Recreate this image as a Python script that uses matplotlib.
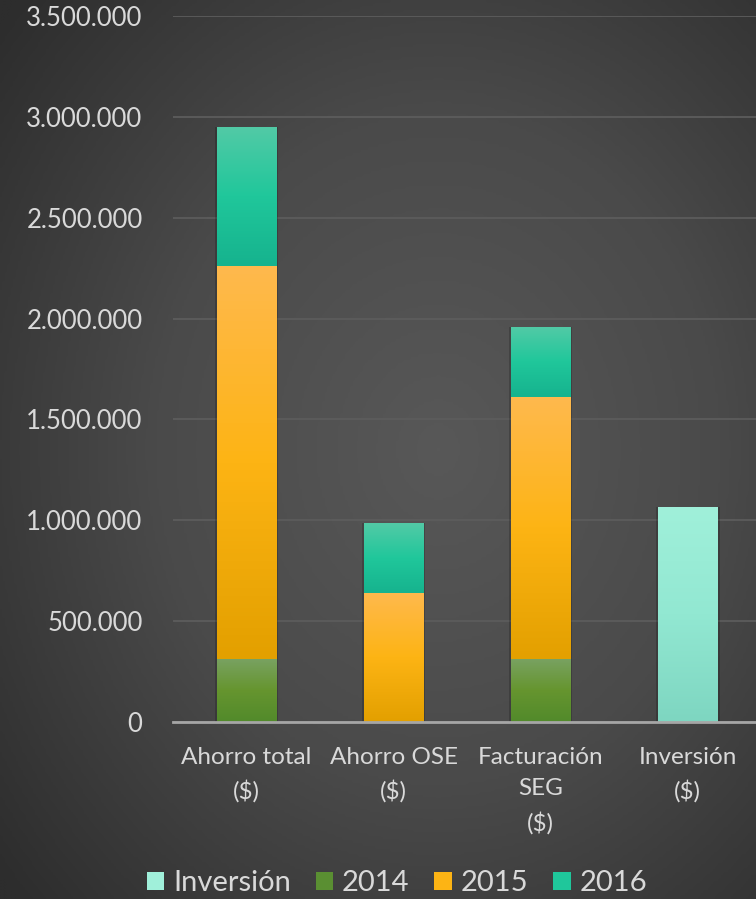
import matplotlib
matplotlib.use("Agg")
import matplotlib.pyplot as plt
import numpy as np
from matplotlib.colors import LinearSegmentedColormap
from matplotlib.patches import Patch
from matplotlib.ticker import FuncFormatter

plt.rcParams['font.family'] = ['Lato', 'DejaVu Sans']

categorias = ["Ahorro total\n($)", "Ahorro OSE\n($)", "Facturación\nSEG\n($)", "Inversión\n($)"]
inversion = [0, 0, 0, 1068000]
v2014 = [313000, 0, 313000, 0]
v2015 = [1947000, 641000, 1296000, 0]
v2016 = [690000, 347000, 348000, 0]

# colores (arriba, medio, abajo) para el degradado
grad = {
    "Inversión": ["#a0f0da", "#92e8d2", "#7ed6c1"],
    "2014": ["#79a262", "#66952f", "#528a2b"],
    "2015": ["#ffb94d", "#fdb414", "#e3a000"],
    "2016": ["#52caa6", "#20c79b", "#16b38e"],
}
swatch = {"Inversión": "#a0f0da", "2014": "#5a8f32", "2015": "#fdb414", "2016": "#1fc79b"}

fig = plt.figure(figsize=(7.56, 8.99), dpi=100)

# fondo con degradado radial
bg = fig.add_axes([0, 0, 1, 1], zorder=-10)
yy, xx = np.mgrid[0:1:300j, 0:1:300j]
r = np.sqrt((xx - 0.58) ** 2 + (yy - 0.5) ** 2)
bg_cmap = LinearSegmentedColormap.from_list("bg", ["#585858", "#4a4a4a", "#2d2d2d"])
bg.imshow(r, cmap=bg_cmap, aspect="auto", extent=[0, 1, 0, 1], vmin=0, vmax=0.75)
bg.axis("off")

ax = fig.add_axes([0.229, 0.197, 0.778, 0.785])
ax.patch.set_alpha(0)

x = np.arange(len(categorias))
width = 0.408
series = [("Inversión", inversion), ("2014", v2014), ("2015", v2015), ("2016", v2016)]
bottom = np.zeros(len(categorias))
for name, vals in series:
    vals = np.array(vals, dtype=float)
    bars = ax.bar(x, vals, width, bottom=bottom, color="none", zorder=3)
    cmap = LinearSegmentedColormap.from_list(name, grad[name][::-1])
    for b, v in zip(bars, vals):
        if v <= 0:
            continue
        x0, y0 = b.get_x(), b.get_y()
        # sombra
        ax.add_patch(plt.Rectangle((x0 - 0.012, y0), b.get_width() + 0.024, b.get_height(),
                                   color="black", alpha=0.18, zorder=2, lw=0))
        img = ax.imshow(np.linspace(0, 1, 100).reshape(-1, 1), cmap=cmap, origin="lower",
                        extent=[x0, x0 + b.get_width(), y0, y0 + b.get_height()],
                        aspect="auto", zorder=3)
        img.set_clip_path(b)
    bottom += vals

ax.set_xlim(-0.5, 3.5)
ax.set_ylim(0, 3500000)
ax.set_yticks(np.arange(0, 3500001, 500000))
ax.yaxis.set_major_formatter(FuncFormatter(lambda v, p: f"{int(v):,}".replace(",", ".")))
ax.grid(axis="y", color="#5c5c5c", lw=1.3, zorder=0)
ax.set_axisbelow(True)
for s in ["top", "right", "left"]:
    ax.spines[s].set_visible(False)
ax.spines["bottom"].set_color("#a6a6a6")
ax.spines["bottom"].set_linewidth(2)
ax.spines["bottom"].set_zorder(4)
ax.tick_params(axis="both", length=0, colors="#d9d9d9")
ax.tick_params(axis="y", pad=22, labelsize=18.5)
ax.tick_params(axis="x", pad=18, labelsize=17.5)
ax.set_xticks(x)
ax.set_xticklabels(categorias, linespacing=1.62)

handles = [Patch(facecolor=swatch[n], edgecolor="none") for n, _ in series]
fig.legend(handles, [n for n, _ in series], loc="lower center", bbox_to_anchor=(0.525, -0.026),
           ncol=4, frameon=False, fontsize=21, labelcolor="#d9d9d9",
           handlelength=0.6, handleheight=0.6, handletextpad=0.3, columnspacing=0.85)

fig.savefig("out.png", dpi=100)
